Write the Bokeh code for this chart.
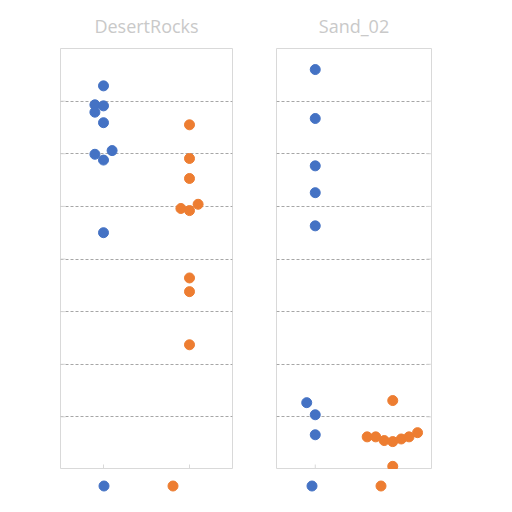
from bokeh.plotting import figure
from bokeh.layouts import row, column
from bokeh.models import (ColumnDataSource, FixedTicker, Legend, LegendItem, Title, Range1d)
from bokeh.embed import file_html
from bokeh.resources import INLINE

# ---- data ----
panels = ["DesertRocks", "Sand_02"]

# DesertRocks
dr_blue_y = [7.29, 6.93, 6.91, 6.79, 6.59, 5.99, 6.06, 5.88, 4.50]
dr_blue_dx = [0.0, -0.1, 0.0, -0.1, 0.0, -0.1, 0.1, 0.0, 0.0]
dr_orange_y = [6.55, 5.91, 5.53, 4.96, 4.92, 5.04, 3.64, 3.38, 2.37]
dr_orange_dx = [0.0, 0.0, 0.0, -0.1, 0.0, 0.1, 0.0, 0.0, 0.0]

# Sand_02
sd_blue_y = [7.60, 6.67, 5.77, 5.26, 4.63, 1.27, 1.04, 0.66]
sd_blue_dx = [0.0, 0.0, 0.0, 0.0, 0.0, -0.11, 0.0, 0.0]
sd_orange_y = [1.31, 0.62, 0.62, 0.55, 0.53, 0.58, 0.62, 0.70, 0.06]
sd_orange_dx = [0.0, -0.33, -0.22, -0.11, 0.0, 0.11, 0.21, 0.32, 0.0]

grid_ticks = [1, 2, 3, 4, 5, 6, 7]
cat_ticks = [1, 2]
x_lo, x_hi = 0.5, 2.5
y_lo, y_hi = 0, 8

BLUE = "#4472C4"
ORANGE = "#ED7D31"
FRAME = "#D9D9D9"
GRID = "#A6A6A6"
TITLE = "#C9C9C9"


def make_panel(name, by, bdx, oy, odx, frame_w, border_left, border_right, tick_side):
    p = figure(frame_width=frame_w, frame_height=421, output_backend="svg",
               toolbar_location=None,
               x_range=Range1d(x_lo, x_hi), y_range=Range1d(y_lo, y_hi),
               min_border_left=border_left, min_border_right=border_right,
               min_border_top=48, min_border_bottom=0,
               x_axis_location=None, y_axis_location=None)
    p.outline_line_color = FRAME
    p.outline_line_width = 1
    p.background_fill_color = "white"
    p.border_fill_color = "white"

    t = Title(text=name, align="center", vertical_align="top", text_font="Open Sans",
              text_font_size="18px", text_color=TITLE, text_font_style="normal", standoff=17)
    p.add_layout(t, "above")

    p.xgrid.visible = False
    p.ygrid.ticker = FixedTicker(ticks=grid_ticks)
    p.ygrid.grid_line_color = GRID
    p.ygrid.grid_line_dash = "3 2"
    p.ygrid.grid_line_width = 1

    # inward tick marks on the value side
    if tick_side == "left":
        p.ray(x=[x_lo] * len(grid_ticks), y=grid_ticks, length=5, length_units="screen",
              angle=0, line_color=FRAME, line_width=1)
    else:
        p.ray(x=[x_hi] * len(grid_ticks), y=grid_ticks, length=5, length_units="screen",
              angle=3.14159265, line_color=FRAME, line_width=1)
    # inward tick marks on the category axis
    p.ray(x=cat_ticks, y=[y_lo] * len(cat_ticks), length=5, length_units="screen",
          angle=1.5707963, line_color=FRAME, line_width=1)

    bsrc = ColumnDataSource(dict(x=[1 + d for d in bdx], y=by))
    osrc = ColumnDataSource(dict(x=[2 + d for d in odx], y=oy))
    p.scatter("x", "y", source=bsrc, size=10, fill_color=BLUE, line_color=BLUE)
    p.scatter("x", "y", source=osrc, size=10, fill_color=ORANGE, line_color=ORANGE)
    return p


def make_legend(frame_w, border_left, border_right, legend_x):
    lf = figure(frame_width=frame_w, frame_height=32, output_backend="svg",
                toolbar_location=None, x_range=Range1d(0, 1), y_range=Range1d(0, 1),
                min_border_left=border_left, min_border_right=border_right,
                min_border_top=0, min_border_bottom=0,
                x_axis_location=None, y_axis_location=None)
    lf.outline_line_color = None
    lf.grid.visible = False
    lf.border_fill_color = "white"
    nan = float("nan")
    # key-only renderers: a single undrawn (NaN) entry so the legend has a glyph to show
    key_b = ColumnDataSource(dict(x=[nan], y=[nan]))
    key_o = ColumnDataSource(dict(x=[nan], y=[nan]))
    rb = lf.scatter("x", "y", source=key_b, size=10, fill_color=BLUE, line_color=BLUE)
    ro = lf.scatter("x", "y", source=key_o, size=10, fill_color=ORANGE, line_color=ORANGE)
    leg = Legend(items=[LegendItem(label=" ", renderers=[rb]),
                        LegendItem(label=" ", renderers=[ro])],
                 orientation="horizontal", location=(legend_x, 3),
                 glyph_width=25, glyph_height=25, label_standoff=0, label_width=17,
                 label_height=25, label_text_font_size="8px", spacing=27,
                 padding=3, margin=0,
                 border_line_color=None, background_fill_alpha=0)
    lf.add_layout(leg, "center")
    return lf


p1 = make_panel(panels[0], dr_blue_y, dr_blue_dx, dr_orange_y, dr_orange_dx,
                frame_w=172, border_left=60, border_right=20, tick_side="left")
p2 = make_panel(panels[1], sd_blue_y, sd_blue_dx, sd_orange_y, sd_orange_dx,
                frame_w=155, border_left=24, border_right=20, tick_side="right")
l1 = make_legend(172, 60, 20, 31)
l2 = make_legend(155, 24, 20, 23)

top = row(p1, p2)
top.spacing = 0
bottom = row(l1, l2)
bottom.spacing = 0
layout = column(top, bottom)
layout.spacing = 0
open("out.html", "w").write(file_html(layout, INLINE))
